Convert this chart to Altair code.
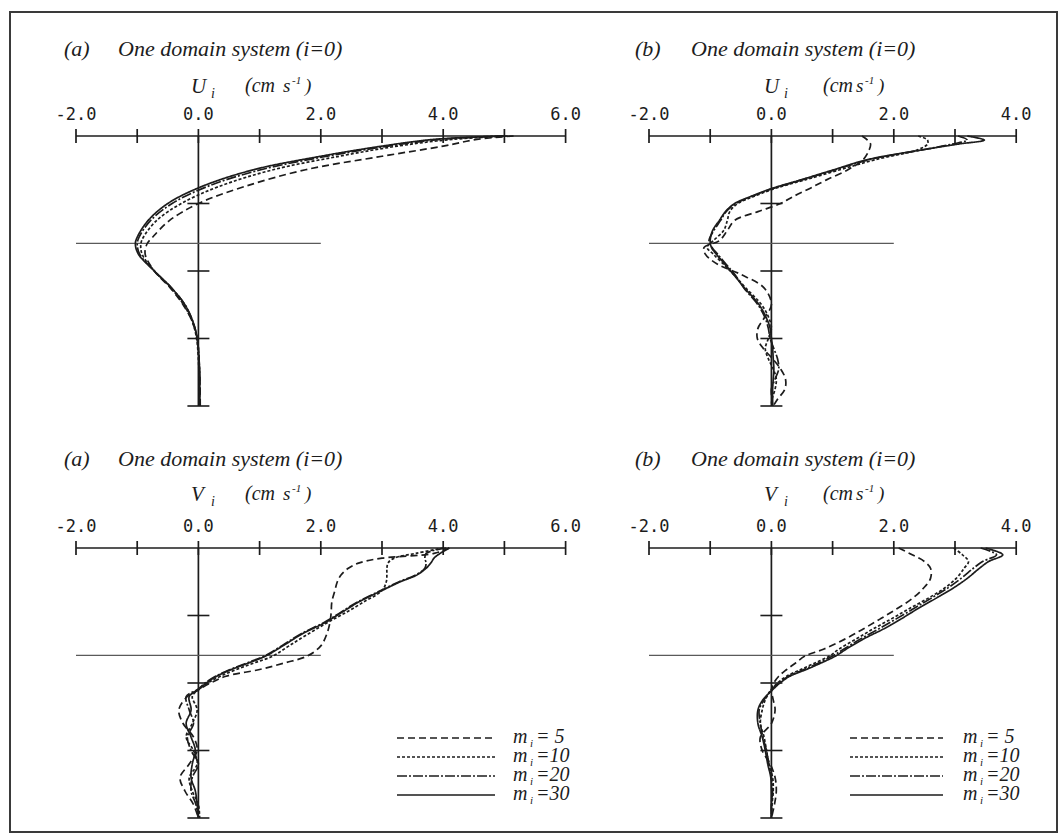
import altair as alt
import pandas as pd

# ---------------------------------------------------------------------------
# Profiles of the current components for four vertical resolutions m_i.
# depth is measured in units of the tick spacing on the vertical axis (0 = surface)
# ---------------------------------------------------------------------------
SERIES = ["m5", "m10", "m20", "m30"]
SERIES_TEXT = ["= 5", "=10", "=20", "=30"]
DASHES = [[7, 4], [3, 2], [10, 2, 2, 2], [1, 0]]

# (a) U, one domain system
depth_ua = [0, 0.05, 0.15, 0.3, 0.5, 0.75, 1.0, 1.25, 1.5, 1.6, 1.75, 2.0, 2.25, 2.5, 2.75, 3.0, 3.5, 4.0]
ua_m5 = [5.15, 4.55, 4.0, 3.0, 1.75, 0.75, 0.0, -0.47, -0.75, -0.84, -0.87, -0.72, -0.46, -0.25, -0.1, -0.02, 0.02, 0.03]
ua_m10 = [5.05, 4.15, 3.25, 2.3, 1.22, 0.33, -0.28, -0.68, -0.9, -0.94, -0.92, -0.72, -0.45, -0.24, -0.1, -0.03, 0.01, 0.02]
ua_m20 = [5.0, 3.95, 3.1, 2.1, 1.02, 0.14, -0.43, -0.78, -0.97, -1.0, -0.96, -0.72, -0.44, -0.22, -0.09, -0.02, 0.02, 0.02]
ua_m30 = [5.0, 3.85, 3.0, 2.0, 0.9, 0.05, -0.5, -0.82, -1.0, -1.03, -0.98, -0.72, -0.44, -0.22, -0.09, -0.02, 0.02, 0.02]

# (b) U, one domain system
depth_ub = [0, 0.06, 0.12, 0.2, 0.35, 0.5, 0.65, 0.78, 0.9, 1.0, 1.12, 1.25, 1.4, 1.55, 1.65,
            1.75, 1.9, 2.05, 2.25, 2.5, 2.7, 2.85, 3.0, 3.15, 3.3, 3.45, 3.6, 3.75, 3.9, 4.0]
ub_m5 = [1.48, 1.57, 1.62, 1.6, 1.5, 1.25, 0.9, 0.62, 0.35, 0.15, -0.22, -0.6, -0.72, -0.85, -1.1,
         -1.08, -0.88, -0.5, -0.12, 0.0, -0.12, -0.22, -0.23, -0.13, 0.02, 0.15, 0.23, 0.22, 0.1, 0.03]
ub_m10 = [2.4, 2.55, 2.55, 2.4, 1.7, 1.12, 0.55, 0.05, -0.3, -0.55, -0.68, -0.72, -0.78, -0.95, -1.05,
          -0.95, -0.78, -0.62, -0.42, -0.16, -0.04, 0.0, -0.05, -0.1, -0.05, 0.03, 0.08, 0.06, 0.01, 0.0]
ub_m20 = [3.05, 3.2, 2.95, 2.5, 1.6, 1.05, 0.5, 0.02, -0.33, -0.58, -0.74, -0.83, -0.94, -1.02, -0.97,
          -0.88, -0.74, -0.6, -0.45, -0.22, -0.1, -0.05, -0.02, 0.04, 0.1, 0.12, 0.06, 0.0, 0.01, 0.02]
ub_m30 = [3.2, 3.48, 3.05, 2.5, 1.57, 1.02, 0.48, 0.0, -0.35, -0.6, -0.75, -0.85, -0.96, -1.0, -0.98,
          -0.9, -0.76, -0.62, -0.44, -0.2, -0.08, -0.02, 0.0, 0.02, 0.03, 0.04, 0.03, 0.02, 0.02, 0.02]

# (a) V, one domain system
depth_va = [0, 0.08, 0.15, 0.22, 0.3, 0.4, 0.5, 0.63, 0.8, 0.95, 1.1, 1.27, 1.45, 1.6, 1.7,
            1.8, 1.9, 2.0, 2.1, 2.2, 2.4, 2.6, 2.8, 3.0, 3.2, 3.4, 3.6, 3.8, 4.0]
va_m5 = [4.1, 3.85, 3.0, 2.63, 2.45, 2.33, 2.27, 2.23, 2.18, 2.17, 2.15, 2.1, 2.0, 1.78, 1.42,
         1.0, 0.45, 0.2, 0.0, -0.18, -0.32, -0.25, -0.08, -0.02, -0.15, -0.3, -0.22, -0.08, 0.0]
va_m10 = [4.0, 3.55, 3.2, 3.1, 3.08, 3.08, 3.07, 3.0, 2.7, 2.42, 2.12, 1.8, 1.48, 1.22, 0.92,
          0.62, 0.36, 0.15, 0.0, -0.1, -0.02, -0.1, -0.2, -0.08, -0.02, -0.15, -0.1, 0.0, 0.02]
va_m20 = [4.05, 3.72, 3.7, 3.72, 3.7, 3.55, 3.28, 2.98, 2.6, 2.33, 2.06, 1.68, 1.36, 1.08, 0.8,
          0.52, 0.28, 0.11, -0.02, -0.2, -0.15, -0.08, -0.18, -0.12, 0.0, -0.1, -0.12, -0.04, 0.0]
va_m30 = [4.1, 3.95, 3.85, 3.8, 3.72, 3.57, 3.3, 3.0, 2.62, 2.35, 2.08, 1.7, 1.38, 1.1, 0.83,
          0.54, 0.3, 0.13, 0.0, -0.15, -0.12, -0.2, -0.12, -0.05, -0.1, -0.12, -0.05, -0.02, 0.0]

# (b) V, one domain system
depth_vb = [0, 0.1, 0.2, 0.3, 0.45, 0.6, 0.75, 0.9, 1.05, 1.2, 1.35, 1.5, 1.6, 1.7, 1.8,
            1.9, 2.0, 2.1, 2.25, 2.4, 2.6, 2.8, 3.0, 3.2, 3.4, 3.6, 3.8, 4.0]
vb_m5 = [2.08, 2.3, 2.5, 2.6, 2.6, 2.48, 2.3, 2.05, 1.78, 1.5, 1.2, 0.85, 0.55, 0.4, 0.25,
         0.12, 0.04, 0.0, 0.03, 0.06, 0.0, -0.18, -0.15, -0.02, 0.06, 0.08, 0.05, 0.0]
vb_m10 = [2.98, 3.12, 3.22, 3.15, 3.02, 2.82, 2.55, 2.25, 1.96, 1.66, 1.38, 1.1, 0.95, 0.72, 0.48,
          0.25, 0.1, 0.0, -0.1, -0.15, -0.18, -0.12, -0.08, -0.04, 0.02, 0.03, 0.01, 0.0]
vb_m20 = [3.42, 3.68, 3.45, 3.3, 3.1, 2.87, 2.6, 2.32, 2.04, 1.75, 1.45, 1.18, 1.0, 0.78, 0.53,
          0.28, 0.12, 0.0, -0.12, -0.2, -0.18, -0.14, -0.08, -0.04, 0.0, 0.02, 0.0, 0.0]
vb_m30 = [3.5, 3.78, 3.55, 3.4, 3.2, 2.96, 2.68, 2.39, 2.12, 1.83, 1.5, 1.22, 1.05, 0.82, 0.57,
          0.3, 0.14, 0.02, -0.14, -0.22, -0.22, -0.15, -0.1, -0.06, -0.01, 0.0, 0.0, 0.0]

# axis furniture
ticks_a = [-2, -1, 0, 1, 2, 3, 4, 5, 6]
labels_a_at = [-2, 0, 2, 4, 6]
labels_a = ["-2.0", "0.0", "2.0", "4.0", "6.0"]
ticks_b = [-2, -1, 0, 1, 2, 3, 4]
labels_b_at = [-2, 0, 2, 4]
labels_b = ["-2.0", "0.0", "2.0", "4.0"]
depth_ticks = [1, 2, 3, 4]
interface_depth = 1.59
interface_span = [-2, 2]

PX_PER_UNIT = 61.2
PANEL_H = 270
SERIF = "Liberation Serif"
MONO = "DejaVu Sans Mono"
INK = "#1c1c1c"


def xq(field, dom):
    return alt.X(field, type="quantitative",
                 scale=alt.Scale(domain=dom, nice=False, zero=False), axis=None)


def yq(field):
    return alt.Y(field, type="quantitative",
                 scale=alt.Scale(domain=[0, 4], reverse=True, nice=False, zero=False), axis=None)


def text(t, x, y, size, font=SERIF, style="italic"):
    return alt.Chart(pd.DataFrame({"t": [t]})).mark_text(
        font=font, fontSize=size, fontStyle=style, align="left",
        baseline="alphabetic", color=INK
    ).encode(x=alt.value(x), y=alt.value(y), text="t:N")


def panel(depth, curves, dom, ticks, lab_at, labs, tag, tag_x, var, paren_x,
          title_y, var_y, legend_x=None, frame=False):
    layers = []
    if frame:
        layers.append(
            alt.Chart(pd.DataFrame({"k": [0]})).mark_rect(
                filled=False, stroke="#3a3a3a", strokeWidth=2
            ).encode(x=alt.value(-66), x2=alt.value(981), y=alt.value(-124), y2=alt.value(696))
        )

    # horizontal axis along the surface with ticks crossing the line
    layers.append(
        alt.Chart(pd.DataFrame({"lo": [dom[0]], "hi": [dom[1]], "d": [0.0]}))
        .mark_rule(color=INK, strokeWidth=1.7)
        .encode(x=xq("lo", dom), x2="hi", y=yq("d"))
    )
    layers.append(
        alt.Chart(pd.DataFrame({"value": ticks, "d": 0.0}))
        .mark_rule(color=INK, strokeWidth=1.7, yOffset=-7, y2Offset=7)
        .encode(x=xq("value", dom), y=yq("d"), y2="d")
    )
    layers.append(
        alt.Chart(pd.DataFrame({"value": lab_at, "label": labs, "d": 0.0}))
        .mark_text(font=MONO, fontSize=17, color=INK, baseline="alphabetic", dy=-16)
        .encode(x=xq("value", dom), y=yq("d"), text="label:N")
    )
    # vertical axis through zero with depth ticks
    layers.append(
        alt.Chart(pd.DataFrame({"v": [0.0], "d0": [0.0], "d1": [4.0]}))
        .mark_rule(color=INK, strokeWidth=1.7)
        .encode(x=xq("v", dom), y=yq("d0"), y2="d1")
    )
    layers.append(
        alt.Chart(pd.DataFrame({"v": 0.0, "depth": depth_ticks}))
        .mark_rule(color=INK, strokeWidth=1.6, xOffset=-11, x2Offset=11)
        .encode(x=xq("v", dom), x2="v", y=yq("depth"))
    )
    # interface depth
    layers.append(
        alt.Chart(pd.DataFrame({"lo": [interface_span[0]], "hi": [interface_span[1]],
                                "d": [interface_depth]}))
        .mark_rule(color="#5a5a5a", strokeWidth=1.2)
        .encode(x=xq("lo", dom), x2="hi", y=yq("d"))
    )

    rows = []
    for name, vals in zip(SERIES, curves):
        for i, (d, v) in enumerate(zip(depth, vals)):
            rows.append({"m": name, "depth": d, "value": v, "k": i})
    layers.append(
        alt.Chart(pd.DataFrame(rows))
        .mark_line(color=INK, strokeWidth=1.7, interpolate="catmull-rom")
        .encode(
            x=xq("value", dom), y=yq("depth"),
            strokeDash=alt.StrokeDash("m:N", scale=alt.Scale(domain=SERIES, range=DASHES), legend=None),
            order=alt.Order("k:Q"),
        )
    )

    # headings
    layers += [
        text(tag, tag_x, title_y, 22),
        text("One domain system (i=0)", 42, title_y, 22),
        text(var, 115, var_y, 21),
        text("i", 135, var_y + 5, 14),
        text("(cm", paren_x, var_y - 1, 20),
        text("s", 207, var_y - 1, 19),
        text("-1", 216, var_y - 9, 11),
        text(")", 229, var_y - 1, 19),
    ]

    if legend_x is not None:
        line_x0, line_x1, text_x = legend_x
        row_y = [190, 209, 228, 247]
        for k in range(4):
            layers.append(
                alt.Chart(pd.DataFrame({"k": [k]}))
                .mark_rule(color=INK, strokeWidth=1.7, strokeDash=DASHES[k])
                .encode(x=alt.value(line_x0), x2=alt.value(line_x1), y=alt.value(row_y[k]))
            )
            layers += [
                text("m", text_x, row_y[k] + 5, 20),
                text("i", text_x + 17, row_y[k] + 9, 11),
                text(SERIES_TEXT[k], text_x + 23, row_y[k] + 5, 20),
            ]

    width = PX_PER_UNIT * (dom[1] - dom[0])
    return alt.layer(*layers).properties(width=width, height=PANEL_H)


u_a = panel(depth_ua, [ua_m5, ua_m10, ua_m20, ua_m30], [-2, 6], ticks_a, labels_a_at, labels_a,
            "(a)", -12, "U", 169, -80, -43, frame=True)
u_b = panel(depth_ub, [ub_m5, ub_m10, ub_m20, ub_m30], [-2, 4], ticks_b, labels_b_at, labels_b,
            "(b)", -14, "U", 174, -80, -43)
v_a = panel(depth_va, [va_m5, va_m10, va_m20, va_m30], [-2, 6], ticks_a, labels_a_at, labels_a,
            "(a)", -12, "V", 169, -82, -47, legend_x=(321, 419, 437))
v_b = panel(depth_vb, [vb_m5, vb_m10, vb_m20, vb_m30], [-2, 4], ticks_b, labels_b_at, labels_b,
            "(b)", -14, "V", 174, -82, -47, legend_x=(201, 294, 314))

chart = (
    alt.concat(u_a, u_b, v_a, v_b, columns=2, spacing={"row": 142, "column": 83}, bounds="flush")
    .properties(padding={"left": 9, "top": 11, "right": 4, "bottom": 6})
    .configure(background="white")
    .configure_view(stroke="transparent", strokeWidth=0)
)

chart.save("out.html", embed_options={"renderer": "svg", "actions": False})
